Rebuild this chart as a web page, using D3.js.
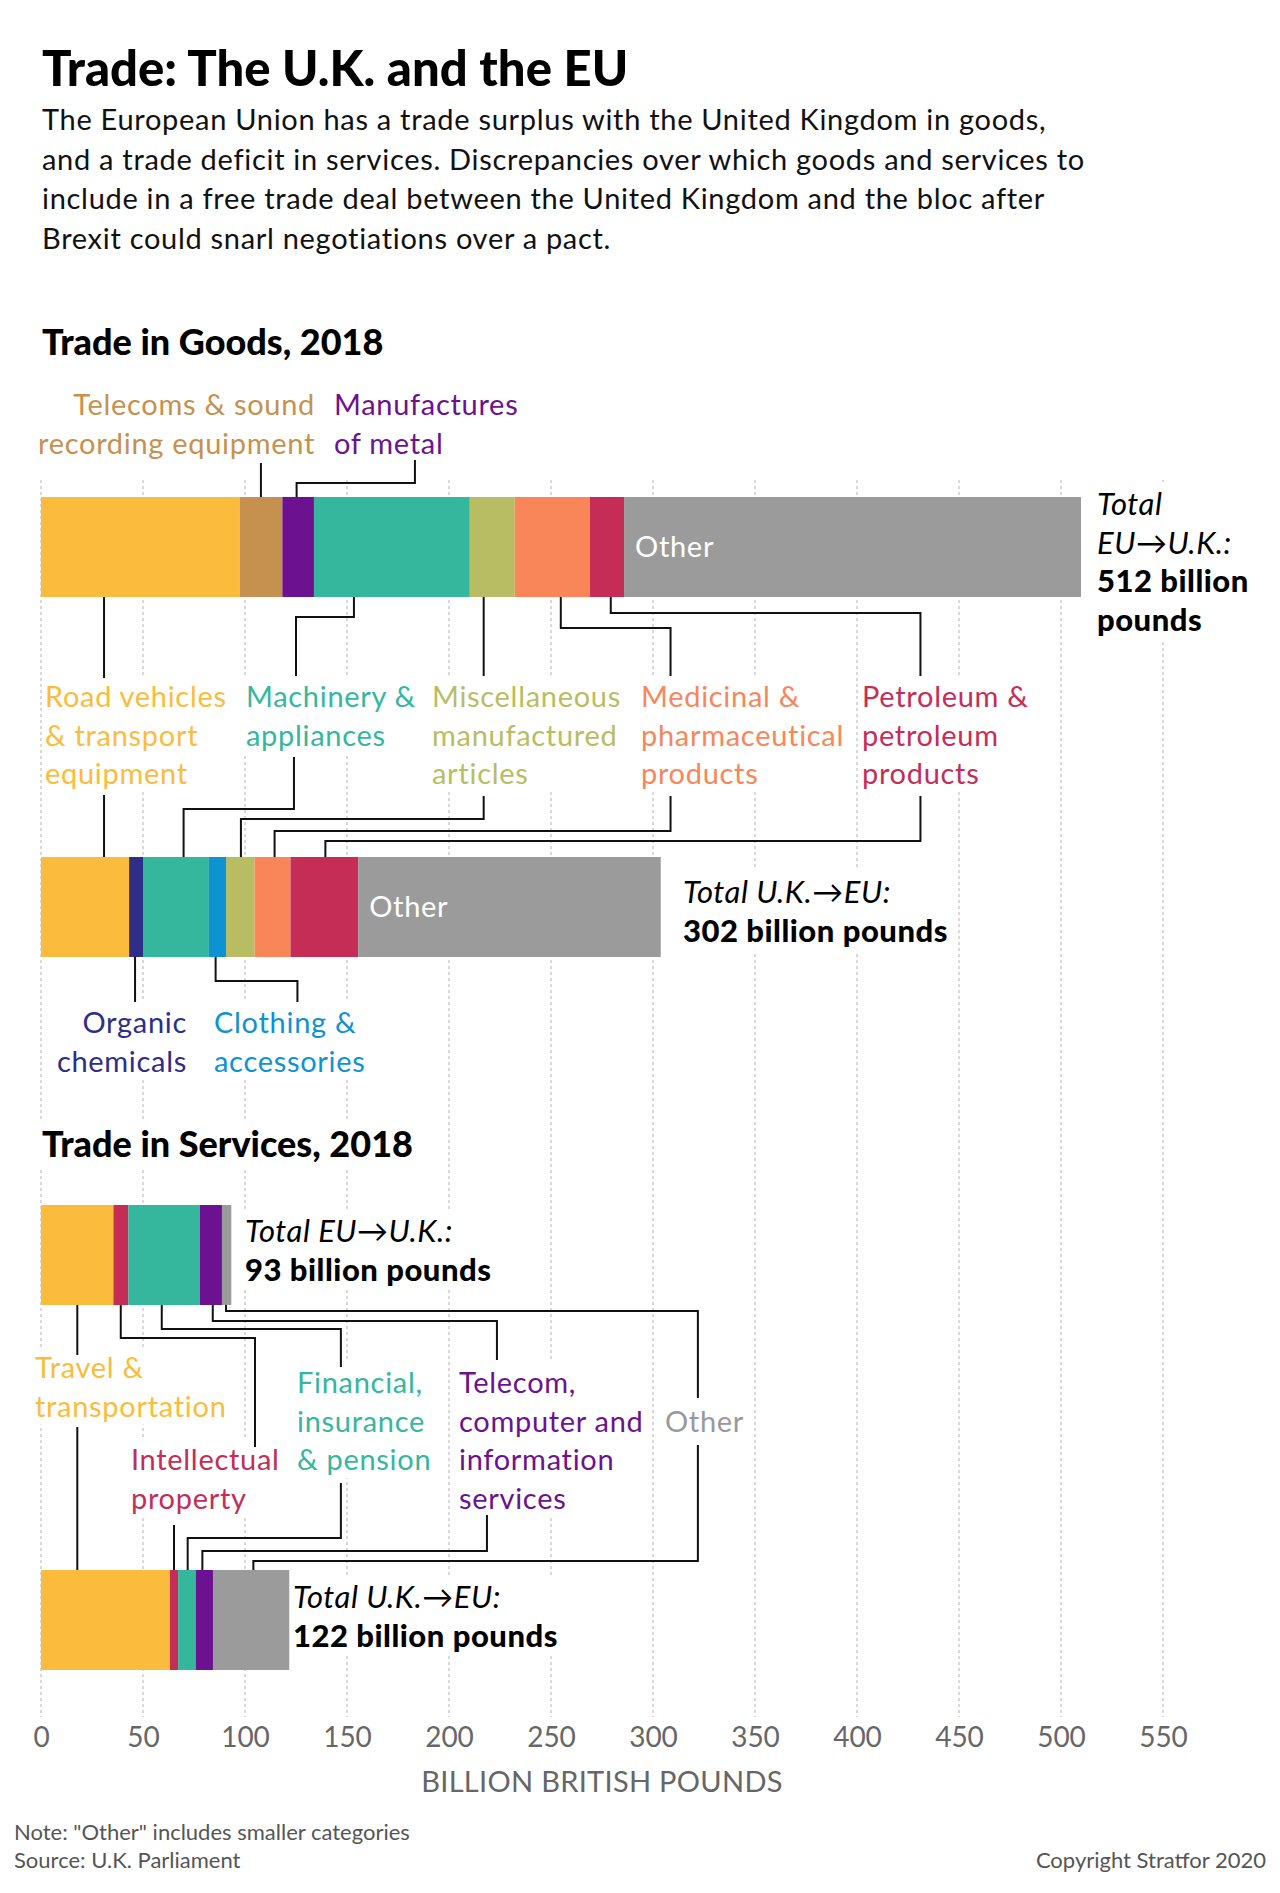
<!DOCTYPE html>
<html>
<head>
<meta charset="utf-8">
<script src="https://cdn.jsdelivr.net/npm/d3@7"></script>
<style>
  body { margin: 0; background: #fff; }
  svg { display: block; font-family: Lato, "Open Sans", sans-serif; }
</style>
</head>
<body>
<svg id="chart" width="1280" height="1893"></svg>
<script>
// Trade: The U.K. and the EU -- stacked bars

// Data (billion British pounds, 2018)
const goodsEUtoUKCats = ["road", "telecom", "metal", "machinery", "misc", "medicinal", "petroleum", "other"];
const goodsEUtoUKVals = [97.5, 20.8, 15.5, 76.4, 22, 36.8, 16.8, 224];

const goodsUKtoEUCats = ["road", "organic", "machinery", "clothing", "misc", "medicinal", "petroleum", "other"];
const goodsUKtoEUVals = [43.2, 6.8, 32.3, 8.4, 14, 17.6, 33.2, 148.3];

const servCats = ["travel", "ip", "financial", "telecomServ", "otherServ"];
const servEUtoUKVals = [35.5, 7.3, 35.1, 10.8, 4.6];
const servUKtoEUVals = [63.2, 4, 8.6, 8.5, 37.4];

const totalsText = ["512", "302", "93", "122"];
const ticks = [0, 50, 100, 150, 200, 250, 300, 350, 400, 450, 500, 550];

// Colours
const color = {
  road: "#FBBC3D", telecom: "#C6914E", metal: "#6C1290", organic: "#2E2D87",
  machinery: "#35B79E", clothing: "#0E93D2", misc: "#B8BD64", medicinal: "#F98659",
  petroleum: "#C52D57", other: "#9B9B9B",
  travel: "#FBBC3D", ip: "#C52D57", financial: "#35B79E", telecomServ: "#6C1290", otherServ: "#9B9B9B"
};

const svg = d3.select("#chart");
const width = +svg.attr("width");

const x = d3.scaleLinear().domain([0, 550]).range([41, 1163]);

const gridG = svg.append("g"),
    bgG = svg.append("g"),
    barG = svg.append("g"),
    leaderG = svg.append("g"),
    textG = svg.append("g");

const LH = 38.6; // label line height
const LABEL_SIZE = 29;

// Gridlines
gridG.selectAll("line")
  .data(ticks)
  .enter().append("line")
  .attr("x1", d => x(d)).attr("x2", d => x(d))
  .attr("y1", 480).attr("y2", 1717)
  .attr("stroke", "#b3b3b3")
  .attr("stroke-width", 1)
  .attr("stroke-dasharray", "3,3");

// text helper: lines of text with white box behind (hides gridlines)
function label(lines, x0, y0, opts) {
  opts = opts || {};
  let t = textG.append("text")
    .attr("x", x0)
    .attr("y", y0)
    .attr("fill", opts.fill || "#111")
    .attr("font-size", opts.size || LABEL_SIZE)
    .attr("font-weight", opts.weight || 400)
    .attr("letter-spacing", opts.ls === undefined ? 0.7 : opts.ls)
    .attr("text-anchor", opts.anchor || "start");
  lines.forEach((ln, i) => {
    let ts = t.append("tspan")
      .attr("x", x0)
      .attr("y", y0 + i * (opts.lh || LH))
      .text(ln);
    if (opts.styles && opts.styles[i]) {
      ts.attr("font-style", opts.styles[i].style || null)
        .attr("font-weight", opts.styles[i].weight || null);
    }
  });
  if (opts.bg !== false) {
    let b = t.node().getBBox();
    bgG.append("rect")
      .attr("x", b.x - 2).attr("y", b.y - 2)
      .attr("width", b.width + 4).attr("height", b.height + 4)
      .attr("fill", "#fff");
  }
  return t;
}

// stacked bar
function drawBar(cats, vals, top, h, otherName) {
  let ends = d3.cumsum(vals);
  let segs = cats.map((c, i) => ({cat: c, x0: ends[i] - vals[i], x1: ends[i]}));
  barG.append("g").selectAll("rect")
    .data(segs)
    .enter().append("rect")
    .attr("x", d => x(d.x0))
    .attr("width", d => x(d.x1) - x(d.x0))
    .attr("y", top)
    .attr("height", h)
    .attr("fill", d => color[d.cat]);
  if (otherName) {
    let o = segs.find(d => d.cat === otherName);
    label(["Other"], x(o.x0) + 11, top + h / 2 + 10, {fill: "#fff", bg: false});
  }
  return segs;
}

// Header
label(["Trade: The U.K. and the EU"], 42, 86, {size: 49, weight: 900, fill: "#000", bg: false, ls: 0});
label([
  "The European Union has a trade surplus with the United Kingdom in goods,",
  "and a trade deficit in services. Discrepancies over which goods and services to",
  "include in a free trade deal between the United Kingdom and the bloc after",
  "Brexit could snarl negotiations over a pact."
], 42, 130, {size: 29, lh: 39.5, fill: "#111", bg: false});

// Section titles
label(["Trade in Goods, 2018"], 42, 355, {size: 36, weight: 900, fill: "#000", ls: 0});
label(["Trade in Services, 2018"], 42, 1157, {size: 36, weight: 900, fill: "#000", ls: 0});

// Bars
drawBar(goodsEUtoUKCats, goodsEUtoUKVals, 497, 100, "other");
drawBar(goodsUKtoEUCats, goodsUKtoEUVals, 857, 100, "other");
drawBar(servCats, servEUtoUKVals, 1205, 100, null);
drawBar(servCats, servUKtoEUVals, 1570, 100, null);

// Total labels
const it = {style: "italic"}, bd = {weight: 900};
const TOT = {size: 31, fill: "#000", ls: 0.5};
label(["Total", "EU\u2192U.K.:", totalsText[0] + " billion", "pounds"], 1097, 515,
  Object.assign({styles: [it, it, bd, bd]}, TOT));
label(["Total U.K.\u2192EU:", totalsText[1] + " billion pounds"], 683, 903,
  Object.assign({styles: [it, bd]}, TOT));
label(["Total EU\u2192U.K.:", totalsText[2] + " billion pounds"], 245, 1242,
  Object.assign({styles: [it, bd]}, TOT));
label(["Total U.K.\u2192EU:", totalsText[3] + " billion pounds"], 293, 1608,
  Object.assign({styles: [it, bd]}, TOT));

// Category labels
label(["Telecoms & sound", "recording equipment"], 315, 415, {fill: color.telecom, anchor: "end"});
label(["Manufactures", "of metal"], 334, 415, {fill: color.metal});
label(["Road vehicles", "& transport", "equipment"], 45, 707, {fill: color.road});
label(["Machinery &", "appliances"], 246, 707, {fill: color.machinery});
label(["Miscellaneous", "manufactured", "articles"], 432, 707, {fill: color.misc});
label(["Medicinal &", "pharmaceutical", "products"], 641, 707, {fill: color.medicinal});
label(["Petroleum &", "petroleum", "products"], 862, 707, {fill: color.petroleum});
label(["Organic", "chemicals"], 187, 1033, {fill: color.organic, anchor: "end"});
label(["Clothing &", "accessories"], 214, 1033, {fill: color.clothing});

label(["Travel &", "transportation"], 35, 1378, {fill: color.travel});
label(["Intellectual", "property"], 131, 1470, {fill: color.ip});
label(["Financial,", "insurance", "& pension"], 297, 1393, {fill: color.financial});
label(["Telecom,", "computer and", "information", "services"], 459, 1393, {fill: color.telecomServ});
label(["Other"], 665, 1432, {fill: "#999"});

// Leader lines: points are [value on axis, y]
const leaders = [
  // goods EU->UK, up to labels
  [[107.8, 497], [107.8, 463]],
  [[125.3, 497], [125.3, 483], [183.3, 483], [183.3, 460]],
  // goods EU->UK, down to labels
  [[30.9, 597], [30.9, 678]],
  [[153.4, 597], [153.4, 617], [125, 617], [125, 676]],
  [[217, 597], [217, 676]],
  [[254.8, 597], [254.8, 628], [308.6, 628], [308.6, 676]],
  [[279.3, 597], [279.3, 613], [431.1, 613], [431.1, 676]],
  // labels down to goods UK->EU
  [[30.9, 795], [30.9, 857]],
  [[124, 757], [124, 809], [69.9, 809], [69.9, 857]],
  [[217, 796], [217, 819], [98, 819], [98, 857]],
  [[308.6, 796], [308.6, 831], [114.5, 831], [114.5, 857]],
  [[431.1, 796], [431.1, 841], [139.4, 841], [139.4, 857]],
  // goods UK->EU, down to labels
  [[46.1, 957], [46.1, 1002]],
  [[85.6, 957], [85.6, 981], [125.7, 981], [125.7, 1002]],
  // services EU->UK, down to labels
  [[17.8, 1305], [17.8, 1355]],
  [[39.1, 1305], [39.1, 1338], [104.9, 1338], [104.9, 1447]],
  [[59.2, 1305], [59.2, 1329], [147, 1329], [147, 1367]],
  [[84.2, 1305], [84.2, 1321], [223.5, 1321], [223.5, 1360]],
  [[90.7, 1305], [90.7, 1311], [322, 1311], [322, 1398]],
  // labels down to services UK->EU
  [[17.8, 1427], [17.8, 1570]],
  [[65.2, 1525], [65.2, 1570]],
  [[147, 1483], [147, 1538], [71.9, 1538], [71.9, 1570]],
  [[218.6, 1515], [218.6, 1551], [79.1, 1551], [79.1, 1570]],
  [[322, 1445], [322, 1561], [104.1, 1561], [104.1, 1570]]
];

const line = d3.line().x(d => x(d[0])).y(d => d[1]);
leaderG.selectAll("path")
  .data(leaders)
  .enter().append("path")
  .attr("d", line)
  .attr("fill", "none")
  .attr("stroke", "#111")
  .attr("stroke-width", 2);

// Axis
const axis = d3.axisBottom(x).tickValues(ticks).tickSize(0).tickPadding(0);
const axisG = svg.append("g")
  .attr("transform", "translate(0,1717)")
  .call(axis);
axisG.select(".domain").remove();
axisG.selectAll("text")
  .attr("y", 30)
  .attr("dy", 0)
  .attr("fill", "#666")
  .attr("font-size", 28)
  .attr("font-family", "Lato, sans-serif");

label(["BILLION BRITISH POUNDS"], (x(0) + x(550)) / 2, 1792,
  {fill: "#666", size: 29, anchor: "middle", bg: false, ls: 0.3});

// Footer
label(["Note: \"Other\" includes smaller categories", "Source: U.K. Parliament"], 14, 1840,
  {fill: "#555", size: 22, lh: 28, bg: false, ls: 0});
label(["Copyright Stratfor 2020"], width - 14, 1868, {fill: "#555", size: 22, anchor: "end", bg: false, ls: 0});
</script>
</body>
</html>
